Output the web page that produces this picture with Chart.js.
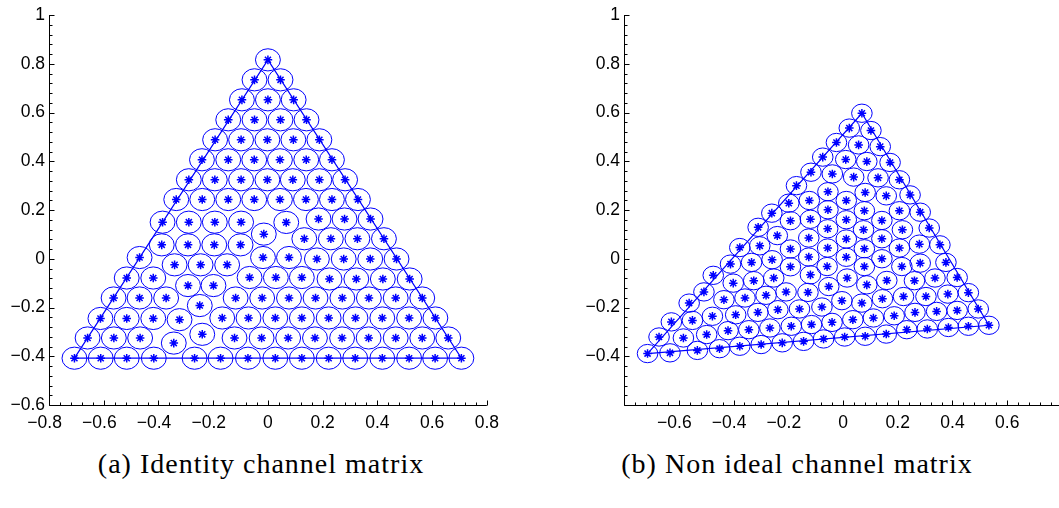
<!DOCTYPE html>
<html>
<head>
<meta charset="utf-8">
<script src="https://cdn.jsdelivr.net/npm/chart.js@4.4.0/dist/chart.umd.min.js"></script>
<style>
  html, body { margin: 0; padding: 0; background: #fff; overflow: hidden; }
  body { width: 1059px; height: 508px; position: relative; }
  canvas { position: absolute; top: 0; }
  #chartA { left: 0; }
  #chartB { left: 575px; }
  .cap {
    position: absolute; top: 450px; line-height: 28px;
    font-family: "Liberation Serif", serif; font-size: 28px; letter-spacing: 1px;
    color: #000; white-space: nowrap; transform: translateX(-50%);
  }
</style>
</head>
<body>
<canvas id="chartA" width="507" height="435"></canvas>
<canvas id="chartB" width="507" height="435"></canvas>
<div class="cap" style="left:261px">(a) Identity channel matrix</div>
<div class="cap" style="left:797px">(b) Non ideal channel matrix</div>
<script>
// (a) identity channel matrix: constellation points
const identityX = [
  0,
  -0.049, 0.046,
  -0.095, 0, 0.094,
  -0.145, -0.049, 0.046, 0.141,
  -0.193, -0.098, -0.002, 0.093, 0.188,
  -0.241, -0.145, -0.05, 0.044, 0.14, 0.234,
  -0.289, -0.194, -0.098, -0.002, 0.091, 0.188, 0.282,
  -0.335, -0.24, -0.145, -0.05, 0.044, 0.139, 0.234, 0.329,
  -0.385, -0.289, -0.194, -0.098, 0.067, 0.185, 0.28, 0.375,
  -0.015,
  0.133, 0.23, 0.327, 0.424,
  -0.388, -0.292, -0.196, -0.1,
  -0.469, -0.018, 0.077, 0.179, 0.277, 0.374, 0.47,
  -0.341, -0.246, -0.149,
  -0.516, -0.419, -0.067, 0.029, 0.124, 0.225, 0.323, 0.42, 0.518,
  -0.292, -0.199,
  -0.564, -0.469, -0.372, -0.118, -0.021, 0.077, 0.174, 0.272, 0.369, 0.467, 0.564,
  -0.249,
  -0.612, -0.516, -0.419, -0.323, -0.167, -0.071, 0.027, 0.124, 0.222, 0.32, 0.418, 0.516, 0.612,
  -0.24,
  -0.659, -0.563, -0.467, -0.122, -0.023, 0.074, 0.172, 0.271, 0.368, 0.467, 0.564, 0.659,
  -0.344,
  -0.707, -0.611, -0.516, -0.417, -0.268, -0.173, -0.073, 0.027, 0.124, 0.222, 0.319, 0.418, 0.516, 0.611, 0.707
];
const identityY = [
  0.816,
  0.734, 0.734,
  0.652, 0.652, 0.652,
  0.57, 0.57, 0.57, 0.57,
  0.488, 0.488, 0.488, 0.488, 0.488,
  0.406, 0.406, 0.406, 0.406, 0.406, 0.406,
  0.324, 0.324, 0.324, 0.324, 0.324, 0.324, 0.324,
  0.243, 0.243, 0.243, 0.243, 0.243, 0.243, 0.243, 0.243,
  0.15, 0.15, 0.15, 0.15, 0.149, 0.163, 0.163, 0.163,
  0.101,
  0.082, 0.082, 0.082, 0.082,
  0.057, 0.057, 0.057, 0.057,
  0.005, 0.005, 0.005, -0.001, -0.001, -0.001, -0.001,
  -0.025, -0.025, -0.025,
  -0.079, -0.079, -0.077, -0.077, -0.077, -0.083, -0.083, -0.083, -0.083,
  -0.11, -0.11,
  -0.161, -0.161, -0.161, -0.161, -0.161, -0.161, -0.161, -0.161, -0.161, -0.161, -0.161,
  -0.192,
  -0.245, -0.245, -0.245, -0.25, -0.243, -0.243, -0.243, -0.243, -0.243, -0.243, -0.243, -0.243, -0.243,
  -0.31,
  -0.325, -0.325, -0.325, -0.325, -0.325, -0.325, -0.325, -0.325, -0.325, -0.325, -0.325, -0.325,
  -0.346,
  -0.408, -0.408, -0.408, -0.408, -0.408, -0.408, -0.408, -0.408, -0.408, -0.408, -0.408, -0.408, -0.408, -0.408, -0.408
];
const identityTriX = [-0.707, 0, 0.707, -0.707];
const identityTriY = [-0.408, 0.816, -0.408, -0.408];

// (b) non ideal channel matrix
const nonIdealX = [
  0.069, 0.023, 0.102, -0.024, 0.057, 0.136, -0.074, 0.01, 0.087, 0.172,
  -0.117, -0.039, 0.039, 0.128, 0.206, -0.17, -0.055, 0.081, 0.158, 0.245,
  -0.198, -0.123, 0.012, -0.26, -0.055, 0.078, 0.206, 0.282, -0.192, -0.119,
  0.012, 0.142, -0.31, -0.056, 0.075, 0.217, 0.315, -0.24, -0.125, 0.012,
  0.142, -0.377, -0.304, -0.192, -0.056, 0.078, 0.206, 0.279, 0.354, -0.125,
  0.012, 0.142, -0.411, -0.334, -0.259, -0.192, -0.058, 0.078, 0.215, 0.282,
  0.376, -0.474, -0.401, -0.326, -0.253, -0.119, -0.052, 0.015, 0.087, 0.16,
  0.261, 0.336, 0.417, -0.508, -0.435, -0.358, -0.281, -0.208, -0.128, -0.004,
  0.069, 0.144, 0.221, 0.303, 0.383, 0.458, -0.562, -0.477, -0.392, -0.311,
  -0.238, -0.159, -0.077, -0.04, 0.036, 0.111, 0.187, 0.263, 0.342, 0.417,
  0.494, -0.627, -0.55, -0.42, -0.344, -0.267, -0.189, -0.115, -0.672, -0.583,
  -0.498, -0.714, -0.632, -0.532, -0.451, -0.377, -0.299, -0.222, -0.144, -0.071,
  0.006, 0.081, 0.158, 0.233, 0.308, 0.385, 0.458, 0.533
];
const nonIdealY = [
  0.597, 0.536, 0.526, 0.477, 0.467, 0.46, 0.417, 0.407, 0.399, 0.395,
  0.355, 0.348, 0.335, 0.332, 0.324, 0.3, 0.275, 0.272, 0.258, 0.262,
  0.228, 0.239, 0.239, 0.187, 0.201, 0.197, 0.197, 0.191, 0.156, 0.162,
  0.16, 0.157, 0.129, 0.123, 0.119, 0.119, 0.126, 0.095, 0.085, 0.081,
  0.082, 0.046, 0.053, 0.04, 0.044, 0.041, 0.044, 0.06, 0.057, 0.007,
  0.006, 0, -0.022, -0.015, -0.004, -0.033, -0.032, -0.032, -0.032, -0.018,
  -0.015, -0.068, -0.1, -0.09, -0.079, -0.066, -0.114, -0.079, -0.107, -0.089,
  -0.09, -0.079, -0.077, -0.136, -0.168, -0.161, -0.15, -0.136, -0.138, -0.172,
  -0.182, -0.164, -0.155, -0.155, -0.145, -0.139, -0.182, -0.236, -0.23, -0.22,
  -0.209, -0.206, -0.198, -0.261, -0.25, -0.243, -0.234, -0.22, -0.216, -0.212,
  -0.206, -0.259, -0.253, -0.295, -0.291, -0.284, -0.277, -0.27, -0.321, -0.325,
  -0.311, -0.389, -0.386, -0.376, -0.369, -0.359, -0.352, -0.345, -0.339, -0.329,
  -0.321, -0.318, -0.309, -0.291, -0.288, -0.282, -0.277, -0.273
];
const nonIdealTriX = [-0.714, 0.069, 0.533, -0.714];
const nonIdealTriY = [-0.389, 0.597, -0.273, -0.389];

// axes and tick labels (the en space keeps the digits centred under the tick, minus sticks out left)
const xTickValues = [-0.8, -0.6, -0.4, -0.2, 0, 0.2, 0.4, 0.6, 0.8];
const yTickValues = [-0.6, -0.4, -0.2, 0, 0.2, 0.4, 0.6, 0.8, 1];
const xTickLabelsA = ['\u22120.8\u2002', '\u22120.6\u2002', '\u22120.4\u2002', '\u22120.2\u2002', '0', '0.2', '0.4', '0.6', '0.8'];
const yTickLabelsA = ['\u22120.6', '\u22120.4', '\u22120.2', '0', '0.2', '0.4', '0.6', '0.8', '1'];
const xTickLabelsB = ['', '\u22120.6\u2002', '\u22120.4\u2002', '\u22120.2\u2002', '0', '0.2', '0.4', '0.6', ''];
const yTickLabelsB = ['', '\u22120.4', '\u22120.2', '0', '0.2', '0.4', '0.6', '0.8', '1'];

const BLUE = '#0000ff';
const tickFont = { family: '"Liberation Sans", Arial, sans-serif', size: 17.5 };

// circles around every point (radius in data units) + matlab-ish axes with inward ticks
const ringsPlugin = {
  id: 'rings',
  beforeDatasetsDraw(chart, args, opts) {
    const ctx = chart.ctx, xs = chart.scales.x, ys = chart.scales.y;
    const pts = chart.data.datasets[0].data;
    const meta = chart.getDatasetMeta(0);
    ctx.save();
    ctx.strokeStyle = BLUE;
    ctx.lineWidth = 1;
    meta.data.forEach((el, i) => {
      const rx = Math.abs(xs.getPixelForValue(pts[i].x + opts.radius) - el.x);
      const ry = Math.abs(ys.getPixelForValue(pts[i].y + opts.radius) - el.y);
      ctx.beginPath();
      ctx.ellipse(el.x, el.y, rx, ry, 0, 0, Math.PI * 2);
      ctx.stroke();
    });
    ctx.restore();
  },
  afterDraw(chart) {
    const ctx = chart.ctx, a = chart.chartArea, xs = chart.scales.x, ys = chart.scales.y;
    const L = Math.round(a.left) + 0.5, B = Math.round(a.bottom) + 0.5;
    ctx.save();
    ctx.strokeStyle = '#000';
    ctx.lineWidth = 1;
    ctx.beginPath();
    ctx.moveTo(L, a.top);
    ctx.lineTo(L, B);
    ctx.lineTo(a.right, B);
    const minor = 0.04;
    const isMajor = v => Math.abs(v / 0.2 - Math.round(v / 0.2)) < 1e-6;
    let n = Math.round((xs.max - xs.min) / minor);
    for (let i = 0; i <= n; i++) {
      const v = xs.min + i * minor;
      const px = Math.round(xs.getPixelForValue(v)) + 0.5;
      ctx.moveTo(px, B);
      ctx.lineTo(px, B - (isMajor(v) ? 5 : 3));
    }
    n = Math.round((ys.max - ys.min) / minor);
    for (let i = 0; i <= n; i++) {
      const v = ys.min + i * minor;
      const py = Math.round(ys.getPixelForValue(v)) + 0.5;
      ctx.moveTo(L, py);
      ctx.lineTo(L + (isMajor(v) ? 5 : 3), py);
    }
    ctx.stroke();
    ctx.restore();
  }
};

function makePanel(id, px, py, triX, triY, xLabels, yLabels, radius) {
  return new Chart(document.getElementById(id), {
    type: 'scatter',
    data: {
      datasets: [
        {
          data: px.map((x, i) => ({ x: x, y: py[i] })),
          pointStyle: 'star',
          pointRadius: 4.3,
          borderColor: BLUE,
          backgroundColor: BLUE,
          borderWidth: 1.5
        },
        {
          data: triX.map((x, i) => ({ x: x, y: triY[i] })),
          showLine: true,
          pointRadius: 0,
          borderColor: BLUE,
          borderWidth: 1.2,
          fill: false
        }
      ]
    },
    options: {
      responsive: false,
      animation: false,
      events: [],
      layout: { padding: { top: 15, right: 20, left: 0, bottom: 0 } },
      plugins: {
        legend: { display: false },
        tooltip: { enabled: false },
        rings: { radius: radius }
      },
      scales: {
        x: {
          type: 'linear', min: -0.8, max: 0.8,
          afterFit: s => { s.height = 30; },
          afterBuildTicks: s => { s.ticks = xTickValues.map(v => ({ value: v })); },
          ticks: { callback: (v, i) => xLabels[i], padding: 8, color: '#000', font: tickFont, maxRotation: 0, autoSkip: false },
          grid: { display: false, drawTicks: false },
          border: { display: false }
        },
        y: {
          type: 'linear', min: -0.6, max: 1,
          afterFit: s => { s.width = 49; },
          afterBuildTicks: s => { s.ticks = yTickValues.map(v => ({ value: v })); },
          ticks: { callback: (v, i) => yLabels[i], padding: 4, color: '#000', font: tickFont, autoSkip: false },
          grid: { display: false, drawTicks: false },
          border: { display: false }
        }
      }
    },
    plugins: [ringsPlugin]
  });
}

makePanel('chartA', identityX, identityY, identityTriX, identityTriY, xTickLabelsA, yTickLabelsA, 0.0455);
makePanel('chartB', nonIdealX, nonIdealY, nonIdealTriX, nonIdealTriY, xTickLabelsB, yTickLabelsB, 0.0376);
</script>
</body>
</html>
